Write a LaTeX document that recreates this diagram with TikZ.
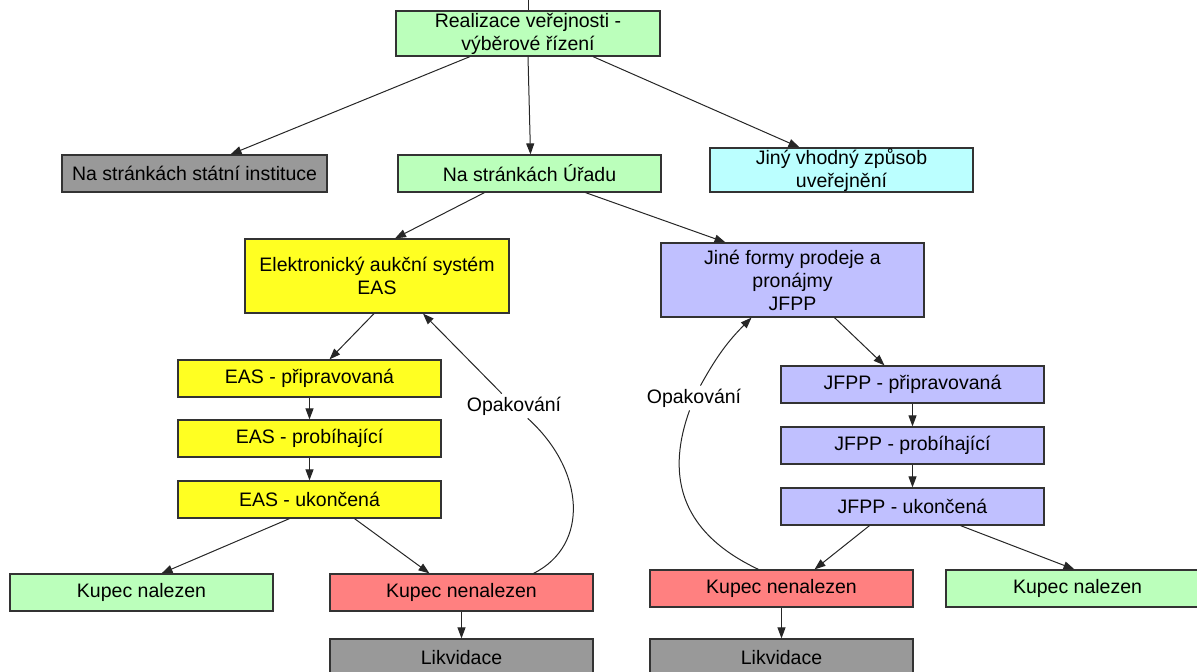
\documentclass[tikz,border=0pt]{standalone}
\usepackage{fontspec}
\setmainfont{Liberation Sans}
\usetikzlibrary{arrows.meta,calc}
\definecolor{cgreen}{HTML}{BBFFBB}
\definecolor{cgray}{HTML}{999999}
\definecolor{ccyan}{HTML}{BBFFFF}
\definecolor{cyel}{HTML}{FFFF22}
\definecolor{clav}{HTML}{C0C0FF}
\definecolor{cred}{HTML}{FF8080}
\definecolor{cborder}{HTML}{333333}
\tikzset{
  box/.style={draw=cborder, line width=1.2pt, align=center, inner sep=0pt,
    minimum width=263pt, minimum height=37pt,
    font=\fontsize{19.5}{23}\selectfont},
  lbl/.style={inner sep=3pt, font=\fontsize{19.5}{23}\selectfont},
  conn/.style={line width=1pt, draw=black!85},
  arr/.style={conn, -{Triangle[length=11pt,width=8pt]}}
}
\begin{document}
\begin{tikzpicture}[x=1pt,y=-1pt]
\useasboundingbox (0,0) rectangle (1197,672);
\clip (0,0) rectangle (1197,672);
% nodes
\node[box, fill=cgreen, minimum width=264pt, minimum height=45pt] (real) at (528,33.5) {Realizace veřejnosti -\\výběrové řízení};
\node[box, fill=cgray, minimum width=265pt] (inst) at (194.5,173.5) {Na stránkách státní instituce};
\node[box, fill=cgreen] (urad) at (529.5,173.5) {Na stránkách Úřadu};
\node[box, fill=ccyan, minimum height=44pt] (jiny) at (841.5,170) {Jiný vhodný způsob\\uveřejnění};
\node[box, fill=cyel, minimum width=264pt, minimum height=74pt] (eas) at (377,276) {Elektronický aukční systém\\EAS};
\node[box, fill=clav, minimum height=74pt] (jfpp) at (792.5,280) {Jiné formy prodeje a\\pronájmy\\JFPP};
\node[box, fill=cyel] (e1) at (309.5,378.5) {EAS - připravovaná};
\node[box, fill=cyel] (e2) at (309.5,438.5) {EAS - probíhající};
\node[box, fill=cyel] (e3) at (309.5,499.5) {EAS - ukončená};
\node[box, fill=clav] (j1) at (912.5,384.5) {JFPP - připravovaná};
\node[box, fill=clav] (j2) at (912.5,445.5) {JFPP - probíhající};
\node[box, fill=clav] (j3) at (912.5,506.5) {JFPP - ukončená};
\node[box, fill=cgreen] (kn1) at (141.5,592.5) {Kupec nalezen};
\node[box, fill=cred] (kx1) at (461.5,592.5) {Kupec nenalezen};
\node[box, fill=cgray] (lik1) at (461.5,657.5) {Likvidace};
\node[box, fill=cred] (kx2) at (781.5,588.5) {Kupec nenalezen};
\node[box, fill=cgray] (lik2) at (781.5,657.5) {Likvidace};
\node[box, fill=cgreen] (kn2) at (1077.5,588.5) {Kupec nalezen};
\node[lbl] (op1) at (514,406) {Opakování};
\node[lbl] (op2) at (694,398) {Opakování};
\coordinate (topin) at (528,0);
% connectors
\draw[conn] (topin) -- (real.north);
\draw[arr] ([xshift=-58pt]real.south) -- ([xshift=36pt]inst.north);
\draw[arr] (real.south) -- ([xshift=1pt]urad.north);
\draw[arr] ([xshift=65pt]real.south) -- ([xshift=-42pt]jiny.north);
\draw[arr] ([xshift=-45pt]urad.south) -- ([xshift=18pt]eas.north);
\draw[arr] ([xshift=56pt]urad.south) -- ([xshift=-67pt]jfpp.north);
\draw[arr] ([xshift=-3pt]eas.south) -- ([xshift=20pt]e1.north);
\draw[arr] (e1) -- (e2);
\draw[arr] (e2) -- (e3);
\draw[arr] ([xshift=-20pt]e3.south) -- ([xshift=20pt]kn1.north);
\draw[arr] ([xshift=45pt]e3.south) -- ([xshift=-32pt]kx1.north);
\draw[arr] (kx1) -- (lik1);
\draw[conn] ([xshift=72pt]kx1.north) .. controls (590,545) and (585,470) .. (op1);
\draw[arr] (op1) -- ([xshift=46pt]eas.south);
\draw[arr] ([xshift=42pt]jfpp.south) -- ([xshift=-28pt]j1.north);
\draw[arr] (j1) -- (j2);
\draw[arr] (j2) -- (j3);
\draw[arr] ([xshift=-43pt]j3.south) -- ([xshift=33pt]kx2.north);
\draw[arr] ([xshift=48pt]j3.south) -- ([xshift=-3pt]kn2.north);
\draw[arr] (kx2) -- (lik2);
\draw[conn] ([xshift=-23pt]kx2.north) .. controls (675,530) and (668,470) .. (op2);
\draw[arr] (op2) to[bend left=8] ([xshift=-41pt]jfpp.south);
\end{tikzpicture}
\end{document}
